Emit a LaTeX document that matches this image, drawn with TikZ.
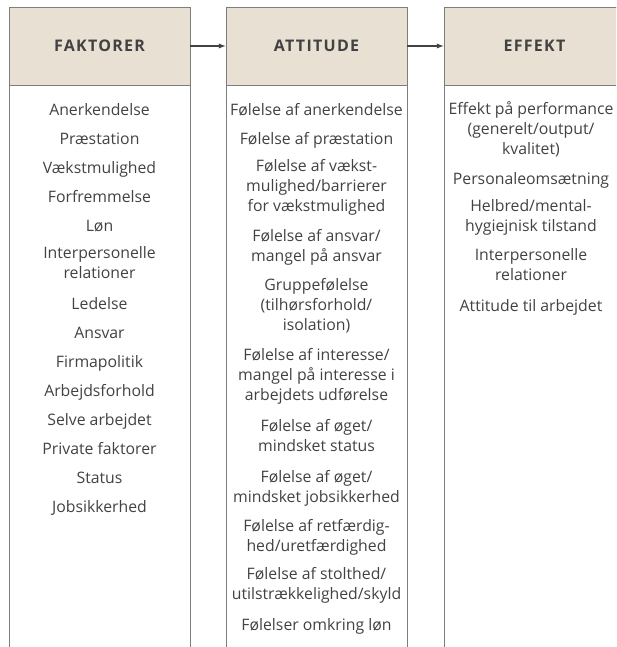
\documentclass[tikz,border=0pt]{standalone}
\usepackage{fontspec}
\setmainfont{Open Sans}
\newfontfamily\headfont[LetterSpace=8]{Open Sans}
\definecolor{headfill}{RGB}{231,224,211}
\definecolor{ink}{RGB}{66,66,66}
\definecolor{rule}{RGB}{125,125,125}
\tikzset{
    headbox/.style={fill=headfill, draw=rule, minimum width=181pt, minimum height=78pt,
        inner sep=0pt, text=ink, font=\headfont\bfseries\fontsize{16}{19}\selectfont},
    item/.style={anchor=north, yshift=14.2pt, align=center, inner sep=0pt, text=ink,
        font=\fontsize{15.8}{20}\selectfont, execute at begin node=\strut}
}
\begin{document}
\begin{tikzpicture}[x=1pt, y=-1pt, line width=0.9pt]
        \useasboundingbox (0,0) rectangle (616,647);
        \clip (0,0) rectangle (616,647);
        \draw[rule] (9,660) -- (9,7) -- (190,7) -- (190,660);
        \draw[rule] (226,660) -- (226,7) -- (407,7) -- (407,660);
        \draw[rule] (444,660) -- (444,7) -- (625,7) -- (625,660);
        \node[headbox] (faktorer) at (99.5,46) {FAKTORER};
        \node[headbox] (attitude) at (316.5,46) {ATTITUDE};
        \node[headbox] (effekt) at (534.5,46) {EFFEKT};
        \draw[ink, line width=1.3pt, ->, >=latex] (faktorer) -- (attitude);
        \draw[ink, line width=1.3pt, ->, >=latex] (attitude) -- (effekt);
        \foreach \y/\txt [count=\i] in {115/Anerkendelse, 144/Præstation, 173/Vækstmulighed,
                202/Forfremmelse, 231/Løn, {260/Interpersonelle\\relationer}, 309/Ledelse,
                338/Ansvar, 367/Firmapolitik, 396/Arbejdsforhold, 425/Selve arbejdet,
                454/Private faktorer, 483/Status, 512/Jobsikkerhed} {
            \node[item] (fak-\i) at (99.5,\y) {\txt};
        }
        \foreach \y/\txt [count=\i] in {115/{Følelse af anerkendelse}, 144/{Følelse af præstation},
                173/{Følelse af vækst-\\mulighed/barrierer\\for vækstmulighed},
                243/{Følelse af ansvar/\\mangel på ansvar},
                292/{Gruppefølelse\\(tilhørsforhold/\\isolation)},
                362/{Følelse af interesse/\\mangel på interesse i\\arbejdets udførelse},
                433/{Følelse af øget/\\mindsket status},
                484/{Følelse af øget/\\mindsket jobsikkerhed},
                533/{Følelse af retfærdig-\\hed/uretfærdighed},
                581/{Følelse af stolthed/\\utilstrækkelighed/skyld},
                630/{Følelser omkring løn}} {
            \node[item] (att-\i) at (316.5,\y) {\txt};
        }
        \foreach \y/\txt [count=\i] in {115/{Effekt på performance\\(generelt/output/\\kvalitet)},
                184/Personaleomsætning, 213/{Helbred/mental-\\hygiejnisk tilstand},
                262/{Interpersonelle\\relationer}, 311/{Attitude til arbejdet}} {
            \node[item] (eff-\i) at (531,\y) {\txt};
        }
\end{tikzpicture}
\end{document}
